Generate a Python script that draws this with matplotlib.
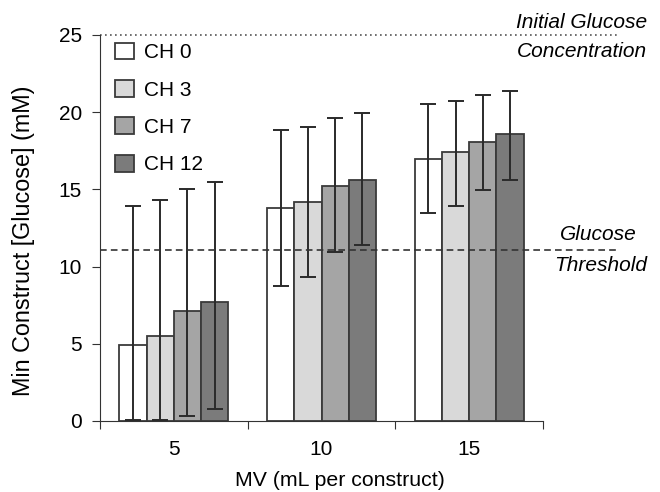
import matplotlib.pyplot as plt
import numpy as np

plt.rcParams['font.family'] = ['Liberation Sans', 'DejaVu Sans']

# data
mv_labels = ['5', '10', '15']
series = ['CH 0', 'CH 3', 'CH 7', 'CH 12']
means = [
    [4.9, 13.8, 17.0],
    [5.5, 14.2, 17.4],
    [7.1, 15.2, 18.1],
    [7.7, 15.6, 18.6],
]
upper = [
    [13.9, 18.85, 20.5],
    [14.3, 19.05, 20.7],
    [15.05, 19.6, 21.1],
    [15.5, 19.95, 21.4],
]
lower = [
    [0.05, 8.75, 13.45],
    [0.05, 9.3, 13.95],
    [0.3, 10.95, 14.95],
    [0.75, 11.4, 15.6],
]
initial_glucose = 25
glucose_threshold = 11.1

colors = ['#ffffff', '#d9d9d9', '#a5a5a5', '#7b7b7b']
edge = '#3a3a3a'

fig = plt.figure(figsize=(6.6, 4.92), dpi=100)
ax = fig.add_axes([100 / 660, 71 / 492, 545 / 660, 386 / 492])

x = np.arange(len(mv_labels)) + 0.5
w = 0.184
for i, name in enumerate(series):
    xi = x + (i - 1.5) * w
    m = np.array(means[i])
    yerr = [m - np.array(lower[i]), np.array(upper[i]) - m]
    ax.bar(xi, m, width=w, color=colors[i], edgecolor=edge, linewidth=1.3, label=name, zorder=2)
    ax.errorbar(xi, m, yerr=yerr, fmt='none', ecolor='#2a2a2a', elinewidth=1.4,
                capsize=6, capthick=1.4, zorder=3)

xmax = 3 + (618 - 543) / 147.7
ax.plot([0, xmax], [initial_glucose] * 2, linestyle=(0, (1, 2)), color='#555555', lw=1.2, clip_on=False, zorder=1)
ax.plot([0, xmax], [glucose_threshold] * 2, linestyle=(0, (4, 2.5)), color='#333333', lw=1.2, clip_on=False, zorder=4)

tx = (647 - 100) / 147.7
ax.text(tx, 25.84, 'Initial Glucose', ha='right', va='center', style='italic', fontsize=15)
ax.text(tx, 23.9, 'Concentration', ha='right', va='center', style='italic', fontsize=15)
ax.text((637 - 100) / 147.7, 12.05, 'Glucose', ha='right', va='center', style='italic', fontsize=15)
ax.text(tx, 10.1, 'Threshold', ha='right', va='center', style='italic', fontsize=15)

ax.set_xlim(0, 545 / 147.7)
ax.set_ylim(0, 25)
ax.spines['top'].set_visible(False)
ax.spines['right'].set_visible(False)
ax.spines['bottom'].set_bounds(0, 3)
ax.spines['left'].set_color('#333333')
ax.spines['bottom'].set_color('#333333')

ax.set_xticks([0, 1, 2, 3])
ax.set_xticklabels([])
ax.set_xticks(x, minor=True)
ax.set_xticklabels(mv_labels, minor=True)
ax.tick_params(axis='x', which='minor', length=0, pad=14, labelsize=15)
ax.tick_params(axis='x', which='major', length=6, color='#333333')
ax.set_yticks([0, 5, 10, 15, 20, 25])
ax.tick_params(axis='y', length=6, pad=7, labelsize=15, color='#333333')

fig.text(340 / 660, 1 - 480 / 492, 'MV (mL per construct)', fontsize=15.3, ha='center', va='center')
fig.text(24 / 660, 1 - 241 / 492, 'Min Construct [Glucose] (mM)', fontsize=16.8,
         rotation=90, ha='center', va='center')

ax.legend(loc='upper left', bbox_to_anchor=(0.013, 1.002), frameon=False, fontsize=15,
          handlelength=0.87, handleheight=0.87, labelspacing=0.85, handletextpad=0.5, borderaxespad=0.0)

fig.savefig('out.png', dpi=100)
